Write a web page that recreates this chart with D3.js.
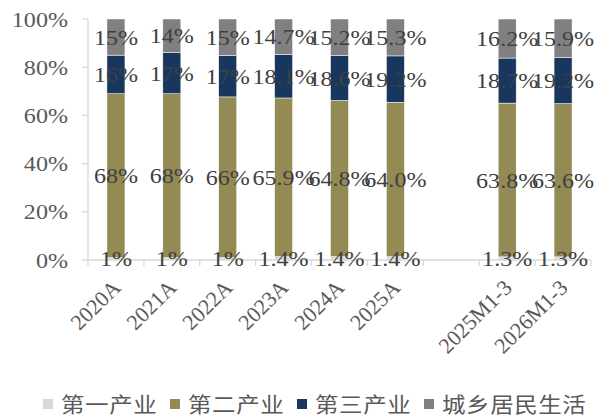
<!DOCTYPE html>
<html>
<head>
<meta charset="utf-8">
<script src="https://cdn.jsdelivr.net/npm/d3@7"></script>
<style>
  body { margin: 0; background: #fff; }
</style>
</head>
<body>
<div id="chart"></div>
<script>
var categories = ["2020A", "2021A", "2022A", "2023A", "2024A", "2025A", "", "2025M1-3", "2026M1-3"];
var seriesNames = ["第一产业", "第二产业", "第三产业", "城乡居民生活"];
var primary   = [1, 1, 1, 1.4, 1.4, 1.4, null, 1.3, 1.3];
var secondary = [68, 68, 66, 65.9, 64.8, 64.0, null, 63.8, 63.6];
var tertiary  = [16, 17, 17, 18.1, 18.6, 19.2, null, 18.7, 19.2];
var household = [15, 14, 15, 14.7, 15.2, 15.3, null, 16.2, 15.9];
var labelDigits = [0, 0, 0, 1, 1, 1, 0, 1, 1];
var yTicks = [0, 0.2, 0.4, 0.6, 0.8, 1];
var colors = ["#d9d9d9", "#948a54", "#17375e", "#808080"];

(function() {
  var width = 605, height = 419;
  var left = 88, right = 591, top = 19, bottom = 260;
  var serif = "'Liberation Serif', 'Times New Roman', 'DejaVu Serif', serif";
  var sx = 1.12; // the original chart is a bit stretched sideways

  function place(px, py, extra) {
    return "translate(" + px + "," + py + ") scale(" + sx + ",1)" + (extra || "");
  }

  var svg = d3.select("#chart")
    .append("svg")
    .attr("width", width)
    .attr("height", height)
    .attr("font-family", serif);

  var rows = categories.map(function(c, i){
    return {cat: c, i: i, s0: primary[i], s1: secondary[i], s2: tertiary[i], s3: household[i]};
  }).filter(function(d){ return d.cat !== ""; });

  var stack = d3.stack()
    .keys(["s0", "s1", "s2", "s3"])
    .offset(d3.stackOffsetExpand);
  var layers = stack(rows);

  var x = d3.scaleBand().domain(categories).range([left, right]).padding(0);
  var y = d3.scaleLinear().domain([0, 1]).range([bottom, top]);
  var barW = 18;

  // y axis
  svg.append("line")
    .attr("x1", left).attr("x2", left)
    .attr("y1", y(0)).attr("y2", y(1))
    .attr("stroke", "#d9d9d9").attr("stroke-width", 1.3);
  svg.selectAll(".ytick")
    .data(yTicks)
    .enter().append("line")
    .attr("x1", left - 6).attr("x2", left)
    .attr("y1", function(d){ return y(d); })
    .attr("y2", function(d){ return y(d); })
    .attr("stroke", "#d9d9d9").attr("stroke-width", 1.3);
  svg.selectAll(".ylab")
    .data(yTicks)
    .enter().append("text")
    .attr("transform", function(d){ return place(68, y(d)); })
    .attr("dy", "0.35em")
    .attr("text-anchor", "end")
    .attr("font-size", 21.5)
    .attr("fill", "#595959")
    .text(function(d){ return Math.round(d * 100) + "%"; });

  // bars
  var g = svg.selectAll(".layer")
    .data(layers)
    .enter().append("g")
    .attr("fill", function(d, i){ return colors[i]; });

  g.selectAll("rect")
    .data(function(d){ return d; })
    .enter().append("rect")
    .attr("x", function(d){ return x(d.data.cat) + x.bandwidth() / 2 - barW / 2; })
    .attr("width", barW)
    .attr("y", function(d){ return y(d[1]); })
    .attr("height", function(d){ return y(d[0]) - y(d[1]); })
    .attr("stroke", "#ffffff")
    .attr("stroke-width", 0.5);

  // x axis
  svg.append("line")
    .attr("x1", left).attr("x2", right)
    .attr("y1", bottom).attr("y2", bottom)
    .attr("stroke", "#d9d9d9").attr("stroke-width", 1.3);
  var bounds = categories.map(function(c){ return x(c); }).concat([right]);
  svg.selectAll(".xtick")
    .data(bounds)
    .enter().append("line")
    .attr("x1", function(d){ return d; })
    .attr("x2", function(d){ return d; })
    .attr("y1", bottom).attr("y2", bottom + 6)
    .attr("stroke", "#d9d9d9").attr("stroke-width", 1.3);

  // data labels (they overlap in the original too)
  layers.forEach(function(layer){
    svg.selectAll(".lab-" + layer.key)
      .data(layer)
      .enter().append("text")
      .attr("transform", function(d){
        return place(x(d.data.cat) + x.bandwidth() / 2, y((d[0] + d[1]) / 2));
      })
      .attr("dy", "0.35em")
      .attr("text-anchor", "middle")
      .attr("font-size", 21.5)
      .attr("fill", "#404040")
      .text(function(d){ return d.data[layer.key].toFixed(labelDigits[d.data.i]) + "%"; });
  });

  // category labels
  svg.selectAll(".xlab")
    .data(rows)
    .enter().append("text")
    .attr("transform", function(d){
      return "translate(" + (x(d.cat) + x.bandwidth() / 2 + 6) + ",289) rotate(-45)";
    })
    .attr("text-anchor", "end")
    .attr("font-size", 22)
    .attr("fill", "#595959")
    .text(function(d){ return d.cat; });

  // legend
  var leg = svg.append("g")
    .selectAll("g")
    .data(seriesNames)
    .enter().append("g")
    .attr("transform", function(d, i){ return "translate(" + (43 + i * 127) + ",399)"; });
  leg.append("rect")
    .attr("width", 10).attr("height", 10)
    .attr("fill", function(d, i){ return colors[i]; });
  leg.append("text")
    .attr("transform", place(18, 5))
    .attr("dy", "0.36em")
    .attr("font-family", "'Noto Sans CJK SC', sans-serif")
    .attr("font-size", 21)
    .attr("letter-spacing", 0.5)
    .attr("fill", "#595959")
    .text(function(d){ return d; });
})();
</script>
</body>
</html>
